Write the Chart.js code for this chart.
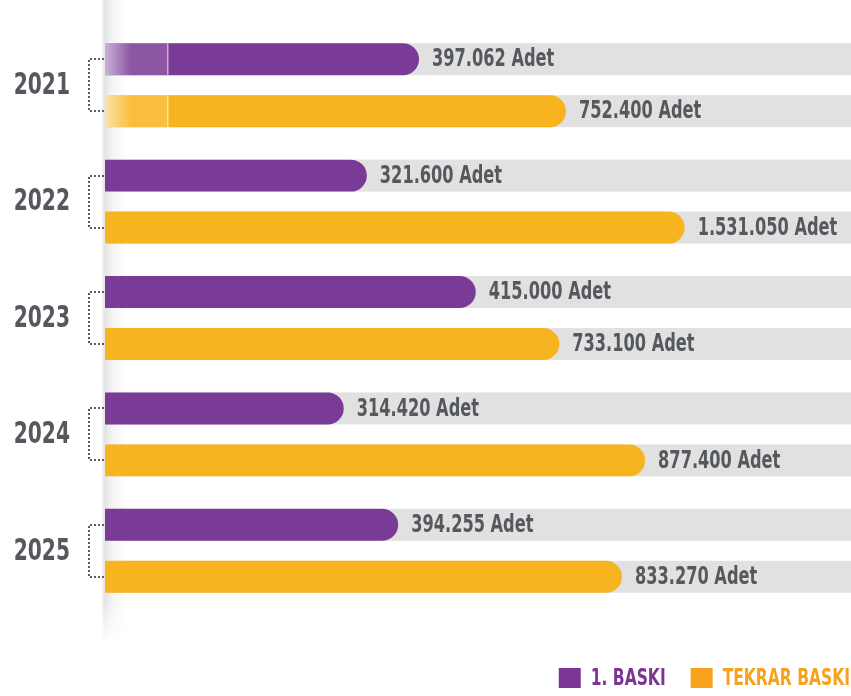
<!DOCTYPE html>
<html><head><meta charset="utf-8">
<script src="https://cdn.jsdelivr.net/npm/chart.js@4.4.1/dist/chart.umd.min.js"></script>
<style>html,body{margin:0;padding:0;background:#fff;}</style>
</head><body>
<canvas id="c" width="851" height="696"></canvas>
<script>
const years = ['2021', '2022', '2023', '2024', '2025'];
const firstPrintCounts = [397062, 321600, 415000, 314420, 394255];
const reprintCounts = [752400, 1531050, 733100, 877400, 833270];
// bar lengths as drawn in the infographic (percent of the grey track)
const firstPrintBarLength = [42.1, 35.1, 49.7, 32.0, 39.3];
const reprintBarLength = [61.8, 77.7, 60.9, 72.4, 69.3];
const seriesNames = ['1. BASKI', 'TEKRAR BASKI'];
const unitLabel = 'Adet';

const FONT = "'Liberation Sans Narrow', 'DejaVu Sans Condensed', 'Roboto', sans-serif";
const NARROW = 0.75; // horizontal squeeze to mimic a condensed typeface
const PURPLE = '#7a3b96', YELLOW = '#f8b41f', LEG_PURPLE = '#7b3593', LEG_ORANGE = '#f7a21b';
const TEXT = '#55595e', TRACK = '#e1e1e1';
const countsBySeries = [firstPrintCounts, reprintCounts];
const legendColors = [LEG_PURPLE, LEG_ORANGE];

function fmt(n) { return n.toString().replace(/\B(?=(\d{3})+(?!\d))/g, '.'); }

function narrowText(ctx, text, x, y, align) {
  ctx.save();
  ctx.translate(x, y);
  ctx.scale(NARROW, 1);
  ctx.textAlign = align;
  ctx.fillText(text, 0, 0);
  ctx.restore();
}

const decor = {
  id: 'decor',
  beforeDatasetsDraw(chart) {
    const ctx = chart.ctx, a = chart.chartArea;
    // page-fold shadow at the left edge of the bars
    ctx.save();
    const x0 = a.left - 3, x1 = a.left + 22;
    const g = ctx.createLinearGradient(x0, 0, x1, 0);
    g.addColorStop(0, 'rgba(0,0,0,0.05)');
    g.addColorStop(0.12, 'rgba(0,0,0,0.11)');
    g.addColorStop(0.4, 'rgba(0,0,0,0.045)');
    g.addColorStop(1, 'rgba(0,0,0,0)');
    const yEnd = a.bottom + 35, fade = 45;
    ctx.fillStyle = g;
    ctx.fillRect(x0, 0, x1 - x0, yEnd - fade);
    for (let i = 0; i < fade; i++) {
      ctx.globalAlpha = 1 - i / fade;
      ctx.fillRect(x0, yEnd - fade + i, x1 - x0, 1);
    }
    ctx.restore();
    // grey tracks
    ctx.save();
    ctx.fillStyle = TRACK;
    chart.data.datasets.forEach((ds, di) => {
      chart.getDatasetMeta(di).data.forEach(bar => {
        const p = bar.getProps(['y', 'height'], true);
        ctx.fillRect(a.left, p.y - p.height / 2, a.right - a.left, p.height);
      });
    });
    ctx.restore();
  },
  afterDatasetsDraw(chart) {
    const ctx = chart.ctx, a = chart.chartArea;
    // faded start on the first year's bars
    ctx.save();
    chart.data.datasets.forEach((ds, di) => {
      const bar = chart.getDatasetMeta(di).data[0];
      const p = bar.getProps(['y', 'height'], true);
      const top = p.y - p.height / 2, w = 62;
      ctx.fillStyle = 'rgba(255,255,255,0.14)';
      ctx.fillRect(a.left, top, w, p.height);
      const g = ctx.createLinearGradient(a.left, 0, a.left + 26, 0);
      g.addColorStop(0, 'rgba(255,255,255,0.55)');
      g.addColorStop(1, 'rgba(255,255,255,0)');
      ctx.fillStyle = g;
      ctx.fillRect(a.left, top, 26, p.height);
      ctx.fillStyle = 'rgba(255,255,255,0.6)';
      ctx.fillRect(a.left + w, top, 1.5, p.height);
    });
    ctx.restore();
    // value labels
    ctx.save();
    ctx.font = "bold 24px " + FONT;
    ctx.fillStyle = TEXT;
    ctx.textBaseline = 'middle';
    chart.data.datasets.forEach((ds, di) => {
      chart.getDatasetMeta(di).data.forEach((bar, i) => {
        const p = bar.getProps(['x', 'y'], true);
        narrowText(ctx, fmt(countsBySeries[di][i]) + ' ' + unitLabel, p.x + 13, p.y + 1, 'left');
      });
    });
    ctx.restore();
    // year labels
    ctx.save();
    ctx.font = "bold 30px " + FONT;
    ctx.fillStyle = TEXT;
    ctx.textBaseline = 'middle';
    const ys = chart.scales.y;
    years.forEach((yr, i) => {
      narrowText(ctx, yr, a.left - 35, ys.getPixelForValue(i) + 1, 'right');
    });
    ctx.restore();
    // dotted brackets
    ctx.save();
    ctx.strokeStyle = '#5a5e62';
    ctx.lineWidth = 2;
    ctx.setLineDash([2, 2]);
    const m0 = chart.getDatasetMeta(0).data, m1 = chart.getDatasetMeta(1).data;
    m0.forEach((b, i) => {
      const y0 = Math.round(b.y), y1 = Math.round(m1[i].y);
      const xl = a.left - 16, xr = a.left - 1;
      ctx.beginPath();
      ctx.moveTo(xr, y0); ctx.lineTo(xl, y0); ctx.lineTo(xl, y1); ctx.lineTo(xr, y1);
      ctx.stroke();
    });
    ctx.restore();
    // legend (bottom right)
    ctx.save();
    ctx.font = "bold 23px " + FONT;
    ctx.textBaseline = 'middle';
    const cy = chart.height - 18, box = 22, gap = 10, itemGap = 25;
    let x = chart.width - 1;
    for (let k = seriesNames.length - 1; k >= 0; k--) {
      const tw = ctx.measureText(seriesNames[k]).width * NARROW;
      ctx.fillStyle = legendColors[k];
      narrowText(ctx, seriesNames[k], x - tw, cy + 1, 'left');
      x -= tw + gap;
      ctx.fillRect(x - box, cy - 10, box, 20);
      x -= box + itemGap;
    }
    ctx.restore();
  }
};

new Chart(document.getElementById('c'), {
  type: 'bar',
  data: {
    labels: years,
    datasets: [
      { label: seriesNames[0], data: firstPrintBarLength, backgroundColor: PURPLE },
      { label: seriesNames[1], data: reprintBarLength, backgroundColor: YELLOW }
    ]
  },
  options: {
    indexAxis: 'y',
    responsive: false,
    animation: false,
    devicePixelRatio: 1,
    layout: { padding: { top: 27, left: 105, right: 0, bottom: 87 } },
    datasets: {
      bar: {
        categoryPercentage: 0.893,
        barPercentage: 0.615,
        borderRadius: 16,
        borderSkipped: 'start',
        borderWidth: 0
      }
    },
    scales: {
      x: { min: 0, max: 100, display: false },
      y: { display: false }
    },
    plugins: {
      tooltip: { enabled: false },
      legend: { display: false }
    }
  },
  plugins: [decor]
});
</script>
</body></html>
